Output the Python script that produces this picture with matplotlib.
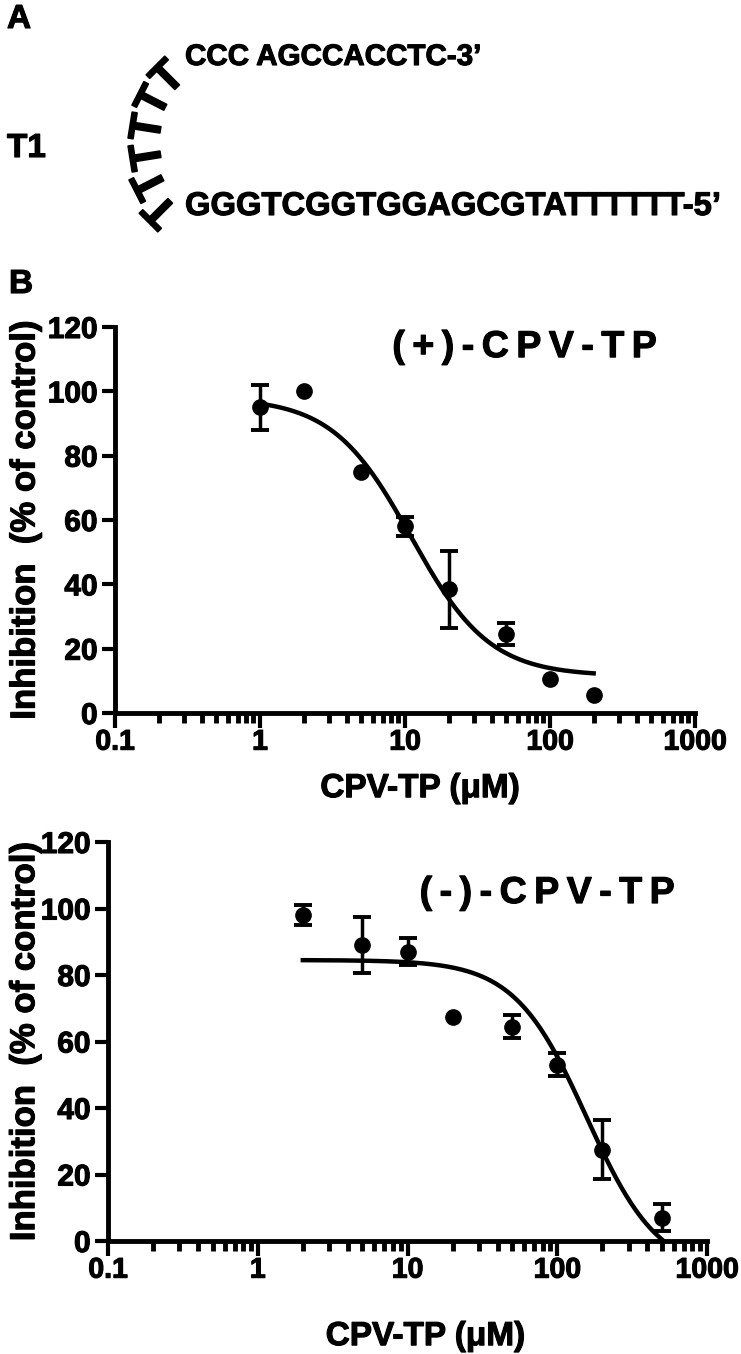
import numpy as np
import matplotlib
matplotlib.use('Agg')
import matplotlib.pyplot as plt
import matplotlib.patheffects as pe
from matplotlib.ticker import LogLocator, NullFormatter

W, H = 741, 1354

# datos
conc_plus = [1, 2, 5, 10, 20, 50, 100, 200]
inhib_plus = [95, 100, 75, 58, 38.5, 24.5, 10.5, 5.5]
sem_plus = [7, None, None, 3, 12, 3.5, None, None]
fit_plus = (98, 11.5, 11, 1.6)          # top, bottom, IC50, hill

conc_minus = [2, 5, 10, 20, 50, 100, 200, 500]
inhib_minus = [98, 89, 87, 67.5, 64.5, 53, 27.5, 7]
sem_minus = [3, 8.5, 4, None, 3.5, 3.5, 9, 4]
fit_minus = (84.5, -10, 157, 1.8)

x_ticks = [0.1, 1, 10, 100, 1000]
x_ticklabels = ['0.1', '1', '10', '100', '1000']
y_ticks = [0, 20, 40, 60, 80, 100, 120]

seq_top = 'CCC AGCCACCTC-3\u2019'
seq_bottom = 'GGGTCGGTGGAGCGTATTTTTT-5\u2019'
loop_letters = 'TTTTTT'

plt.rcParams['font.family'] = ['Liberation Sans', 'DejaVu Sans']
plt.rcParams['font.weight'] = 'bold'

heavy = [pe.withStroke(linewidth=0.8, foreground='black')]


def fxy(px, py):
    return px / W, 1 - py / H


def rect(left, right, top, bottom):
    return [left / W, 1 - bottom / H, (right - left) / W, (bottom - top) / H]


def four_pl(x, top, bottom, ic50, hill):
    return bottom + (top - bottom) / (1 + (x / ic50) ** hill)


def panel(ax, conc, inhib, sem, fit, title, title_pos, xlab_pos, ylab_x):
    xs = np.logspace(np.log10(conc[0]), np.log10(conc[-1]), 300)
    ax.plot(xs, four_pl(xs, *fit), color='black', lw=3.2, zorder=2)
    ex = [c for c, s in zip(conc, sem) if s is not None]
    ey = [v for v, s in zip(inhib, sem) if s is not None]
    es = [s for s in sem if s is not None]
    ax.errorbar(ex, ey, yerr=es, fmt='none', ecolor='black', elinewidth=2.5,
                capsize=6.5, capthick=2.8, zorder=3)
    ax.plot(conc, inhib, 'o', color='black', ms=11, zorder=4, clip_on=False)

    ax.set_xscale('log')
    ax.set_xlim(0.1, 1000)
    ax.set_ylim(0, 120)
    ax.set_xticks(x_ticks)
    ax.set_xticklabels(x_ticklabels)
    ax.xaxis.set_minor_locator(LogLocator(base=10, subs=range(2, 10)))
    ax.xaxis.set_minor_formatter(NullFormatter())
    ax.set_yticks(y_ticks)
    for s in ['top', 'right']:
        ax.spines[s].set_visible(False)
    for s in ['left', 'bottom']:
        ax.spines[s].set_linewidth(3.5)
    ax.tick_params(axis='x', which='major', length=11, width=3, pad=1, labelsize=20.5)
    ax.tick_params(axis='x', which='minor', length=7.5, width=3.5)
    ax.tick_params(axis='y', which='major', length=9.5, width=3, pad=3, labelsize=21.5)
    for lab in ax.get_xticklabels() + ax.get_yticklabels():
        lab.set_path_effects(heavy)

    ax.text(title_pos[0], title_pos[1], '\u2009'.join(title), transform=ax.transAxes,
            ha='center', va='baseline', fontsize=27, path_effects=heavy)
    ax.text(xlab_pos[0], xlab_pos[1], 'CPV-TP (\u03bcM)', transform=ax.transAxes,
            ha='center', va='baseline', fontsize=24, path_effects=heavy)
    ax.text(ylab_x, 0.5, 'Inhibition  (% of control)', transform=ax.transAxes,
            rotation=90, rotation_mode='anchor', ha='center', va='center',
            fontsize=25, path_effects=heavy)


fig = plt.figure(figsize=(W / 100, H / 100), dpi=100)

ax1 = fig.add_axes(rect(115, 695, 327, 713))
panel(ax1, conc_plus, inhib_plus, sem_plus, fit_plus, '(+)-CPV-TP',
      (0.706, 0.922), (0.526, -0.218), -0.155)

ax2 = fig.add_axes(rect(108, 707, 842, 1241))
panel(ax2, conc_minus, inhib_minus, sem_minus, fit_minus, '(-)-CPV-TP',
      (0.733, 0.847), (0.53, -0.261), -0.139)

# panel A
fig.text(*fxy(7, 28), 'A', fontsize=24, ha='left', va='baseline', path_effects=heavy)
fig.text(*fxy(9, 293), 'B', fontsize=24, ha='left', va='baseline', path_effects=heavy)
fig.text(*fxy(7, 157), 'T1', fontsize=24, ha='left', va='baseline', path_effects=heavy)
fig.text(*fxy(185, 65), seq_top, fontsize=21.3, ha='left', va='baseline',
         path_effects=heavy)
fig.text(*fxy(185, 215), seq_bottom, fontsize=23.6, ha='left', va='baseline',
         path_effects=heavy)

loop_pos = [(169, 79), (155, 102), (149, 128), (149, 156), (152, 183), (162, 209)]
for i, (ch, (px, py)) in enumerate(zip(loop_letters, loop_pos)):
    fig.text(*fxy(px, py), ch, fontsize=32, rotation=45 + 18 * i,
             rotation_mode='anchor', ha='center', va='center',
             path_effects=[pe.withStroke(linewidth=1.2, foreground='black')])

fig.savefig('out.png', dpi=100)
